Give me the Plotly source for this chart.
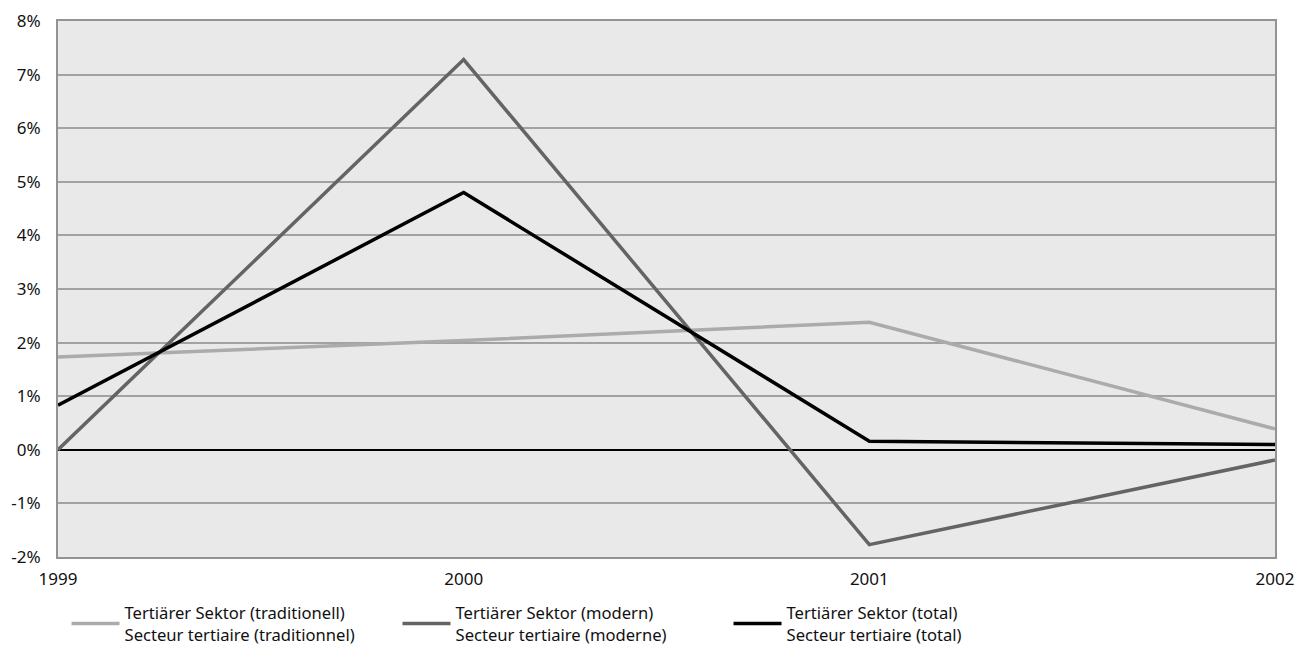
import plotly.graph_objects as go

# Years on the x axis
years = [1999, 2000, 2001, 2002]

# Annual growth rates in percent
traditionell = [1.73, 2.04, 2.38, 0.39]
modern = [0.0, 7.28, -1.77, -0.19]
total = [0.83, 4.80, 0.16, 0.10]

series_names = [
    "Tertiärer Sektor (traditionell)<br>Secteur tertiaire (traditionnel)",
    "Tertiärer Sektor (modern)<br>Secteur tertiaire (moderne)",
    "Tertiärer Sektor (total)<br>Secteur tertiaire (total)",
]
series_colors = ["#ababab", "#646464", "#000000"]

y_ticks = [-2, -1, 0, 1, 2, 3, 4, 5, 6, 7, 8]
y_tick_text = [f"{v}%" for v in y_ticks]

FONT = "Noto Sans"

fig = go.Figure()
for vals, name, color in zip([traditionell, modern, total], series_names, series_colors):
    fig.add_trace(go.Scatter(
        x=years, y=vals, mode="lines", name=name,
        line=dict(color=color, width=3.5),
    ))

fig.update_layout(
    width=1311, height=648,
    margin=dict(l=58, r=36, t=21, b=91),
    paper_bgcolor="white",
    plot_bgcolor="#e9e9e9",
    font=dict(family=FONT, size=16, color="#111111"),
    showlegend=True,
    legend=dict(
        orientation="h", x=0.007, xanchor="left",
        yref="container", y=0.081, yanchor="top",
        font=dict(size=16.6), itemwidth=48, tracegroupgap=0,
        entrywidth=268,
        bgcolor="rgba(0,0,0,0)",
    ),
    xaxis=dict(
        range=[1999, 2002], tickvals=years, ticktext=[str(y) for y in years],
        showgrid=False, zeroline=False, ticks="", automargin=False,
        showline=True, mirror=True, linecolor="#939393", linewidth=2,
        tickfont=dict(size=17), ticklabelstandoff=6,
    ),
    yaxis=dict(
        range=[-2, 8], tickvals=y_ticks, ticktext=y_tick_text,
        showgrid=True, gridcolor="#a2a2a2", gridwidth=1.5,
        zeroline=True, zerolinecolor="#000000", zerolinewidth=1.5,
        showline=True, mirror=True, linecolor="#939393", linewidth=2,
        ticks="", tickfont=dict(size=17), ticklabelstandoff=12, automargin=False,
    ),
)

fig.write_html("out.html")
